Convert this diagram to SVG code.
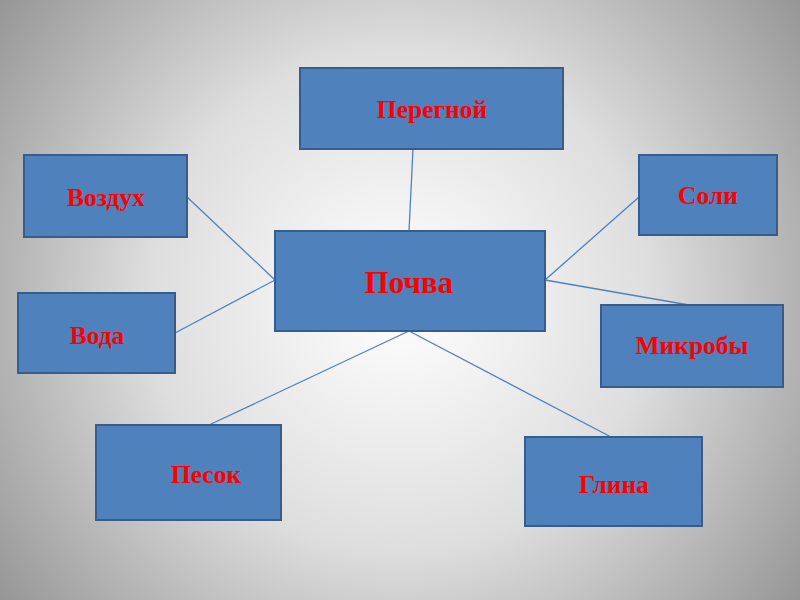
<svg xmlns="http://www.w3.org/2000/svg" width="800" height="600" viewBox="0 0 800 600">
<defs>
<radialGradient id="bg" cx="400" cy="300" r="500" gradientUnits="userSpaceOnUse">
<stop offset="0" stop-color="#ffffff"/>
<stop offset="0.5" stop-color="#dedede"/>
<stop offset="1" stop-color="#969696"/>
</radialGradient>
<style>
.box{fill:#4f81bd;stroke:#385d8a;stroke-width:2}
.lbl{font-family:"Liberation Serif","Times New Roman",serif;font-weight:bold;font-size:25.5px;fill:#ff0000;text-anchor:middle}
.big{font-size:31px}
.conn line{stroke:#4f81bd;stroke-width:1.3}
</style>
</defs>
<rect width="800" height="600" fill="url(#bg)"/>
<g class="conn">
<line x1="413" y1="149" x2="409" y2="231"/>
<line x1="187" y1="197" x2="275" y2="280"/>
<line x1="175" y1="333" x2="275" y2="280"/>
<line x1="545" y1="280" x2="639" y2="197"/>
<line x1="545" y1="280" x2="689" y2="305"/>
<line x1="409" y1="331" x2="209" y2="425"/>
<line x1="409" y1="331" x2="611" y2="437"/>
</g>
<g id="peregnoy"><rect class="box" x="300" y="68" width="263" height="81"/><text class="lbl" x="432" y="118">Перегной</text></g>
<g id="pochva"><rect class="box" x="275" y="231" width="270" height="100"/><text class="lbl big" x="409" y="293">Почва</text></g>
<g id="vozdukh"><rect class="box" x="24" y="155" width="163" height="82"/><text class="lbl" x="106" y="206">Воздух</text></g>
<g id="voda"><rect class="box" x="18" y="293" width="157" height="80"/><text class="lbl" x="97" y="344">Вода</text></g>
<g id="soli"><rect class="box" x="639" y="155" width="138" height="80"/><text class="lbl" x="708" y="204">Соли</text></g>
<g id="mikroby"><rect class="box" x="601" y="305" width="182" height="82"/><text class="lbl" x="692" y="354">Микробы</text></g>
<g id="pesok"><rect class="box" x="96" y="425" width="185" height="95"/><text class="lbl" x="206" y="483">Песок</text></g>
<g id="glina"><rect class="box" x="525" y="437" width="177" height="89"/><text class="lbl" x="614" y="493">Глина</text></g>
</svg>
